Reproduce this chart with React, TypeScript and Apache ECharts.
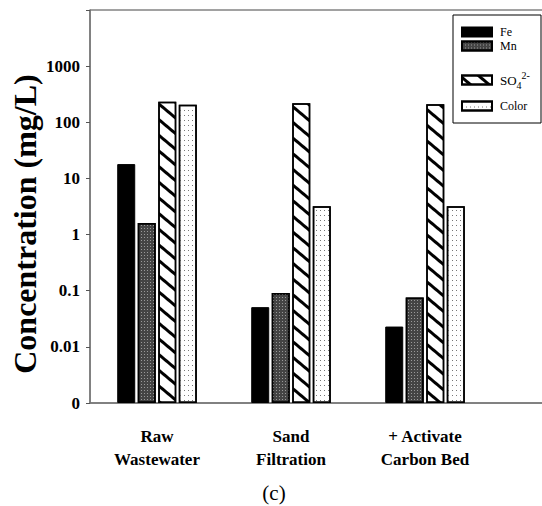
import React, { useEffect, useRef } from "react";
import * as echarts from "echarts";

const categories = ["Raw\nWastewater", "Sand\nFiltration", "+ Activate\nCarbon Bed", ""];
const feValues = [18, 0.05, 0.022];
const mnValues = [1.6, 0.09, 0.075];
const so4Values = [231, 219, 210];
const colorValues = [205, 3.2, 3.2];
const axisFloor = 0.001;
const baseValues = [axisFloor, axisFloor, axisFloor];
const yTickValues = [0.001, 0.01, 0.1, 1, 10, 100, 1000];
const yTickText = ["0", "0.01", "0.1", "1", "10", "100", "1000"];
const seriesNames = ["Fe", "Mn", "SO4", "Color"];

const SERIF = "'Liberation Serif', 'Times New Roman', serif";

export default function App() {
  const ref = useRef<HTMLDivElement>(null);
  useEffect(() => {
    if (!ref.current) return;
    const chart = echarts.init(ref.current, undefined, { renderer: "svg" });

    const barBase = {
      type: "bar",
      barWidth: 18,
      barGap: "14%",
      barCategoryGap: "40%",
    };

    const styles: any[] = [
      { color: "#000", borderColor: "#000", borderWidth: 1 },
      {
        color: "#444",
        borderColor: "#000",
        borderWidth: 1.5,
        decal: { symbol: "rect", symbolSize: 1, color: "#999", dashArrayX: [1, 2], dashArrayY: [1, 2] },
      },
      {
        color: "#fff",
        borderColor: "#000",
        borderWidth: 1.5,
        decal: {
          symbol: "rect",
          symbolSize: 1,
          color: "#000",
          dashArrayX: [1, 0],
          dashArrayY: [2.5, 9],
          rotation: Math.PI / 4.5,
        },
      },
      {
        color: "#fff",
        borderColor: "#000",
        borderWidth: 1.5,
        decal: { symbol: "rect", symbolSize: 1, color: "#777", dashArrayX: [1, 3], dashArrayY: [1, 4] },
      },
    ];
    const valueSets = [feValues, mnValues, so4Values, colorValues];

    const series: any[] = [];
    seriesNames.forEach((n, i) => {
      series.push({
        ...barBase,
        name: "base" + i,
        stack: "s" + i,
        data: baseValues,
        silent: true,
        itemStyle: { color: "rgba(0,0,0,0)", borderWidth: 0 },
      });
      series.push({
        ...barBase,
        name: n,
        stack: "s" + i,
        data: valueSets[i],
        itemStyle: styles[i],
      });
    });

    const legendCenters = [32, 46, 80, 106];
    const legends = seriesNames.map((n, i) => {
      const lh = n === "SO4" ? 20 : 12;
      return {
        data: [n],
        left: 461,
        top: legendCenters[i] - lh / 2,
        padding: 0,
        orient: "vertical",
        icon: "rect",
        itemWidth: 30,
        itemHeight: 9,
        selectedMode: false,
        formatter: (name: string) => (name === "SO4" ? "{b|SO}{s|4}{p|2-}" : name),
        textStyle: {
          fontFamily: SERIF,
          fontSize: 12,
          color: "#000",
          lineHeight: lh,
          padding: [0, 0, 0, 3],
          rich: {
            b: { fontFamily: SERIF, fontSize: 13, color: "#000", lineHeight: 20, verticalAlign: "middle" },
            s: { fontFamily: SERIF, fontSize: 10, color: "#000", lineHeight: 20, verticalAlign: "bottom" },
            p: { fontFamily: SERIF, fontSize: 10, color: "#000", lineHeight: 20, verticalAlign: "top" },
          },
        },
      };
    });

    const option: any = {
      animation: false,
      backgroundColor: "#fff",
      grid: {
        left: 90,
        top: 10,
        width: 536,
        height: 393,
        outerBoundsMode: "none",
        containLabel: false,
        show: true,
        borderColor: "#444",
        borderWidth: 1,
      },
      legend: legends,
      xAxis: {
        type: "category",
        data: categories,
        axisLine: { lineStyle: { color: "#777", width: 1.5 } },
        axisTick: { alignWithLabel: true, length: 4, lineStyle: { color: "#555" } },
        axisLabel: {
          margin: 22,
          lineHeight: 23,
          fontFamily: SERIF,
          fontWeight: "bold",
          fontSize: 17,
          color: "#000",
          interval: 0,
        },
      },
      yAxis: {
        type: "log",
        logBase: 10,
        min: 0.001,
        max: 10000,
        splitLine: { show: false },
        axisLine: { show: true, lineStyle: { color: "#777", width: 1.5 } },
        axisTick: { show: true, length: 4, lineStyle: { color: "#555" } },
        minorTick: { show: false },
        axisLabel: {
          margin: 10,
          fontFamily: SERIF,
          fontWeight: "bold",
          fontSize: 17,
          color: "#000",
          formatter: (v: number) => {
            const idx = yTickValues.findIndex((t) => Math.abs(Math.log10(t) - Math.log10(v)) < 1e-6);
            return idx >= 0 ? yTickText[idx] : "";
          },
        },
      },
      series,
      graphic: [
        {
          type: "rect",
          shape: { x: 453, y: 15, width: 88, height: 108 },
          style: { fill: "none", stroke: "#000", lineWidth: 1 },
          z: 10,
        },
        {
          type: "text",
          x: 25,
          y: 224,
          rotation: Math.PI / 2,
          style: {
            text: "Concentration (mg/L)",
            font: "bold 32px " + SERIF,
            fill: "#000",
            textAlign: "center",
            textVerticalAlign: "middle",
          },
        },
        {
          type: "text",
          x: 274,
          y: 493,
          style: {
            text: "(c)",
            font: "21px " + SERIF,
            fill: "#000",
            textAlign: "center",
            textVerticalAlign: "middle",
          },
        },
      ],
    };
    chart.setOption(option);
    return () => chart.dispose();
  }, []);
  return (
    <div
      ref={ref}
      style={{ position: "absolute", left: 0, top: 0, width: 542, height: 506, background: "#fff" }}
    />
  );
}
